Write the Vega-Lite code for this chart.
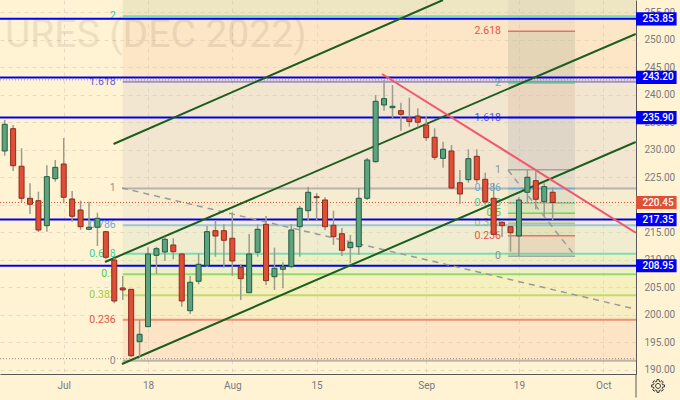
{
  "$schema": "https://vega.github.io/schema/vega-lite/v6.json",
  "width": 636,
  "height": 374,
  "autosize": {"type": "none"},
  "padding": {"left": 0, "top": 0, "right": 44, "bottom": 26},
  "background": "#FFF3D3",
  "view": {"fill": "#FFF3D3", "stroke": null},
  "config": {"font": "Roboto"},
  "resolve": {"axis": {"x": "independent", "y": "independent"}},
  "datasets": {
    "candles": [
      {"i":0,"open":229.82,"high":235.45,"low":228.96,"close":234.67},
      {"i":1,"open":233.87,"high":234.55,"low":226.18,"close":227.15},
      {"i":2,"open":227.04,"high":230.31,"low":220.55,"close":221.22},
      {"i":3,"open":221.22,"high":223.95,"low":218.36,"close":220.13},
      {"i":4,"open":220.78,"high":222.42,"low":215.09,"close":215.45},
      {"i":5,"open":216.24,"high":227.22,"low":215.15,"close":225.15},
      {"i":6,"open":224.78,"high":228.18,"low":224.24,"close":226.85},
      {"i":7,"open":227.45,"high":232.18,"low":220.49,"close":221.4},
      {"i":8,"open":221.09,"high":222.55,"low":216.96,"close":217.95},
      {"i":9,"open":219.09,"high":220.78,"low":215.45,"close":216.05},
      {"i":10,"open":215.58,"high":220.6,"low":215.4,"close":215.95},
      {"i":11,"open":215.95,"high":218.6,"low":212.55,"close":217.58},
      {"i":12,"open":215.15,"high":215.27,"low":210.13,"close":210.49},
      {"i":13,"open":210,"high":210.36,"low":202.13,"close":202.55},
      {"i":14,"open":204.91,"high":207.09,"low":202.73,"close":204.55},
      {"i":15,"open":204.67,"high":204.73,"low":192.36,"close":192.6},
      {"i":16,"open":195.15,"high":199.09,"low":192.42,"close":196.49},
      {"i":17,"open":197.87,"high":212.31,"low":197.8,"close":211.09},
      {"i":18,"open":210.85,"high":212.42,"low":207.45,"close":212.05},
      {"i":19,"open":211.45,"high":214.24,"low":209.82,"close":213.76},
      {"i":20,"open":212.73,"high":213.95,"low":210.13,"close":211.51},
      {"i":21,"open":211.09,"high":211.15,"low":201.51,"close":202.55},
      {"i":22,"open":200.78,"high":207.09,"low":200.18,"close":205.95},
      {"i":23,"open":206.13,"high":211.22,"low":205.58,"close":209.22},
      {"i":24,"open":209.04,"high":216.18,"low":208.73,"close":215.15},
      {"i":25,"open":215.33,"high":217.27,"low":210.6,"close":214.36},
      {"i":26,"open":215.33,"high":216.49,"low":208.6,"close":213.58},
      {"i":27,"open":213.95,"high":218.67,"low":207.15,"close":209.82},
      {"i":28,"open":208.67,"high":209.27,"low":202.73,"close":206.6},
      {"i":29,"open":204.05,"high":214.73,"low":204,"close":211.09},
      {"i":30,"open":211.4,"high":216.49,"low":210.6,"close":215.58},
      {"i":31,"open":216.49,"high":218,"low":205.45,"close":206.24},
      {"i":32,"open":206.96,"high":212.24,"low":204.55,"close":208.49},
      {"i":33,"open":208.31,"high":209.58,"low":204.85,"close":208.78},
      {"i":34,"open":208.78,"high":216.55,"low":208.6,"close":215.45},
      {"i":35,"open":216.05,"high":219.82,"low":210.6,"close":219.4},
      {"i":36,"open":218.96,"high":223.33,"low":217.15,"close":222.31},
      {"i":37,"open":221.51,"high":222.13,"low":217.27,"close":221.33},
      {"i":38,"open":220.91,"high":221.4,"low":215.45,"close":216.05},
      {"i":39,"open":216.31,"high":218.96,"low":212.73,"close":214.24},
      {"i":40,"open":214.78,"high":215.82,"low":210.73,"close":211.76},
      {"i":41,"open":212.24,"high":214.55,"low":209.4,"close":213.15},
      {"i":42,"open":212.42,"high":223.09,"low":210.91,"close":221.22},
      {"i":43,"open":221.22,"high":228.55,"low":220.91,"close":228.18},
      {"i":44,"open":227.87,"high":240,"low":227.7,"close":238.85},
      {"i":45,"open":238.18,"high":242.73,"low":237.15,"close":239.33},
      {"i":46,"open":237.69,"high":241.82,"low":235.76,"close":237.95},
      {"i":47,"open":237.15,"high":238.6,"low":233.51,"close":236.49},
      {"i":48,"open":235.87,"high":239.51,"low":234.24,"close":235.15},
      {"i":49,"open":236.18,"high":237.58,"low":234.13,"close":235.04},
      {"i":50,"open":234.55,"high":236.18,"low":231.64,"close":232.24},
      {"i":51,"open":232.31,"high":233.95,"low":228.18,"close":228.67},
      {"i":52,"open":228.49,"high":231.51,"low":226.78,"close":230.13},
      {"i":53,"open":229.82,"high":230.91,"low":223,"close":223.09},
      {"i":54,"open":224.05,"high":226.36,"low":220.18,"close":222},
      {"i":55,"open":224.6,"high":230.13,"low":224.05,"close":228.42},
      {"i":56,"open":228.85,"high":230.13,"low":224.05,"close":224.6},
      {"i":57,"open":224.67,"high":225.87,"low":220.18,"close":220.6},
      {"i":58,"open":221.22,"high":223.95,"low":214.55,"close":214.67},
      {"i":59,"open":216.85,"high":217.27,"low":214.18,"close":216.24},
      {"i":60,"open":216.05,"high":216.18,"low":211.51,"close":214.96},
      {"i":61,"open":214.36,"high":221.45,"low":210.73,"close":220.91},
      {"i":62,"open":222.31,"high":226.36,"low":220.31,"close":225.04},
      {"i":63,"open":224.42,"high":226.36,"low":219.22,"close":221.04},
      {"i":64,"open":220.6,"high":223.95,"low":218,"close":223.33},
      {"i":65,"open":222.31,"high":223.22,"low":217.27,"close":220.45}
    ],
    "bands": [
      {"band":"0-0.236","i":14,"i2":74.886,"p":191.7,"p2":199.15},
      {"band":"0.236-0.382","i":14,"i2":74.886,"p":199.15,"p2":203.6},
      {"band":"0.382-0.5","i":14,"i2":74.886,"p":203.6,"p2":207.4},
      {"band":"0.5-0.618","i":14,"i2":74.886,"p":207.4,"p2":211.15},
      {"band":"0.618-0.786","i":14,"i2":74.886,"p":211.15,"p2":216.3},
      {"band":"0.786-1","i":14,"i2":74.886,"p":216.3,"p2":223},
      {"band":"1-1.618","i":14,"i2":74.886,"p":223,"p2":242.4},
      {"band":"1.618-2","i":14,"i2":74.886,"p":242.4,"p2":254.3},
      {"band":"2-2.618","i":14,"i2":74.886,"p":254.3,"p2":257.27},
      {"band":"0-0.236","i":59.7,"i2":67.65,"p":210.7,"p2":214.4},
      {"band":"0.236-0.382","i":59.7,"i2":67.65,"p":214.4,"p2":216.7},
      {"band":"0.382-0.5","i":59.7,"i2":67.65,"p":216.7,"p2":218.5},
      {"band":"0.5-0.618","i":59.7,"i2":67.65,"p":218.5,"p2":220.35},
      {"band":"0.618-0.786","i":59.7,"i2":67.65,"p":220.35,"p2":223},
      {"band":"0.786-1","i":59.7,"i2":67.65,"p":223,"p2":226.4},
      {"band":"1-1.618","i":59.7,"i2":67.65,"p":226.4,"p2":235.9},
      {"band":"1.618-2","i":59.7,"i2":67.65,"p":235.9,"p2":242.2},
      {"band":"2-2.618","i":59.7,"i2":67.65,"p":242.2,"p2":251.6}
    ],
    "fibs": [
      {"fib":"a","level":"0","i":14,"i2":74.886,"p":191.7},
      {"fib":"a","level":"0.236","i":14,"i2":74.886,"p":199.15},
      {"fib":"a","level":"0.382","i":14,"i2":74.886,"p":203.6},
      {"fib":"a","level":"0.5","i":14,"i2":74.886,"p":207.4},
      {"fib":"a","level":"0.618","i":14,"i2":74.886,"p":211.15},
      {"fib":"a","level":"0.786","i":14,"i2":74.886,"p":216.3},
      {"fib":"a","level":"1","i":14,"i2":74.886,"p":223},
      {"fib":"a","level":"1.618","i":14,"i2":74.886,"p":242.4},
      {"fib":"a","level":"2","i":14,"i2":74.886,"p":254.3},
      {"fib":"b","level":"0","i":59.7,"i2":67.65,"p":210.7},
      {"fib":"b","level":"0.236","i":59.7,"i2":67.65,"p":214.4},
      {"fib":"b","level":"0.382","i":59.7,"i2":67.65,"p":216.7},
      {"fib":"b","level":"0.5","i":59.7,"i2":67.65,"p":218.5},
      {"fib":"b","level":"0.618","i":59.7,"i2":67.65,"p":220.35},
      {"fib":"b","level":"0.786","i":59.7,"i2":67.65,"p":223},
      {"fib":"b","level":"1","i":59.7,"i2":67.65,"p":226.4},
      {"fib":"b","level":"1.618","i":59.7,"i2":67.65,"p":235.9},
      {"fib":"b","level":"2","i":59.7,"i2":67.65,"p":242.2},
      {"fib":"b","level":"2.618","i":59.7,"i2":67.65,"p":251.6}
    ],
    "channels": [
      {"i":12.91,"p":231.09,"i2":51.99,"p2":257.27},
      {"i":11.9,"p":209.64,"i2":74.85,"p2":251.09},
      {"i":13.91,"p":191.09,"i2":74.85,"p2":231.45}
    ],
    "trend": [
      {"i":44.76,"p":243.82,"i2":74.85,"p2":214.96}
    ],
    "projections": [
      {"i":13.91,"p":223.09,"i2":74.77,"p2":201.09},
      {"i":59.7,"p":226.36,"i2":67.65,"p2":210.73}
    ],
    "lines": [
      {"kind":"level","p":253.85,"i":-0.558,"i2":74.886},
      {"kind":"level","p":243.2,"i":-0.558,"i2":74.886},
      {"kind":"level","p":235.9,"i":-0.558,"i2":74.886},
      {"kind":"level","p":217.35,"i":-0.558,"i2":74.886},
      {"kind":"level","p":208.95,"i":-0.558,"i2":74.886},
      {"kind":"last","p":220.45,"i":-0.558,"i2":74.886},
      {"kind":"dotted","p":242.75,"i":-0.558,"i2":74.886},
      {"kind":"dotted","p":192.05,"i":-0.558,"i2":74.886}
    ],
    "tags": [
      {"kind":"level","label":"253.85","price":253.85,"p":255.05,"p2":252.65,"i":74.886,"i2":79.7,"mid":77.5},
      {"kind":"level","label":"243.20","price":243.2,"p":244.4,"p2":242,"i":74.886,"i2":79.7,"mid":77.5},
      {"kind":"level","label":"235.90","price":235.9,"p":237.1,"p2":234.7,"i":74.886,"i2":79.7,"mid":77.5},
      {"kind":"last","label":"220.45","price":220.45,"p":221.65,"p2":219.25,"i":74.886,"i2":79.7,"mid":77.5},
      {"kind":"level","label":"217.35","price":217.35,"p":218.55,"p2":216.15,"i":74.886,"i2":79.7,"mid":77.5},
      {"kind":"level","label":"208.95","price":208.95,"p":210.15,"p2":207.75,"i":74.886,"i2":79.7,"mid":77.5}
    ]
  },
  "encoding": {
    "x": {
      "field": "i",
      "type": "quantitative",
      "title": null,
      "scale": {"domain": [-0.558, 74.886], "nice": false, "zero": false, "padding": 0},
      "axis": null
    },
    "y": {
      "field": "p",
      "type": "quantitative",
      "title": null,
      "scale": {"domain": [189.27, 257.27], "nice": false, "zero": false, "padding": 0},
      "axis": null
    }
  },
  "layer": [
    {
      "data": {"name": "bands"},
      "mark": {"type": "rect", "opacity": 0.3},
      "encoding": {
        "x": {
          "field": "i",
          "type": "quantitative",
          "axis": {
            "orient": "bottom",
            "title": null,
            "values": [7, 17, 27, 37, 50, 61, 71],
            "labelExpr": "datum.value==7?'Jul':datum.value==17?'18':datum.value==27?'Aug':datum.value==37?'15':datum.value==50?'Sep':datum.value==61?'19':'Oct'",
            "labelFontSize": 10,
            "labelColor": "#777b80",
            "labelPadding": 6,
            "labelFlush": false,
            "tickSize": 0,
            "domainColor": "#5a5a5a",
            "domainWidth": 1,
            "grid": true,
            "gridColor": "#8a8a8a",
            "gridOpacity": 0.22,
            "gridDash": [4, 4]
          }
        },
        "y": {
          "field": "p",
          "type": "quantitative",
          "axis": {
            "orient": "right",
            "title": null,
            "values": [190, 195, 200, 205, 210, 215, 220, 225, 230, 235, 240, 245, 250, 255],
            "format": ".2f",
            "labelFontSize": 10,
            "labelColor": "#777b80",
            "labelPadding": 8,
            "labelFlush": false,
            "tickSize": 0,
            "domainColor": "#5a5a5a",
            "domainWidth": 1,
            "grid": true,
            "gridColor": "#8a8a8a",
            "gridOpacity": 0.22,
            "gridDash": [4, 4]
          }
        },
        "x2": {"field": "i2"},
        "y2": {"field": "p2"},
        "fill": {
          "field": "band",
          "type": "nominal",
          "legend": null,
          "scale": {
            "domain": ["0-0.236", "0.236-0.382", "0.382-0.5", "0.5-0.618", "0.618-0.786", "0.786-1", "1-1.618", "1.618-2", "2-2.618"],
            "range": ["#F8C4A4", "#EBE29E", "#E1E98D", "#C6E9A1", "#CDDFC6", "#E1DFC9", "#D4CBC9", "#F8CBA8", "#C6C89E"]
          }
        }
      }
    },
    {
      "data": {"values": [{"i": 59.7, "i2": 67.65, "p": 210.7, "p2": 257.27}]},
      "mark": {"type": "rect", "color": "#787b86", "opacity": 0.07},
      "encoding": {
        "x2": {"field": "i2"},
        "y2": {"field": "p2"}
      }
    },
    {
      "data": {"values": [{"name": "URES (DEC 2022)", "i": 0.03, "p": 250.9}]},
      "mark": {"type": "text", "align": "left", "baseline": "middle", "fontSize": 39, "color": "#3a2a10", "opacity": 0.09},
      "encoding": {
        "text": {"field": "name"}
      }
    },
    {
      "data": {"name": "fibs"},
      "mark": {"type": "text", "align": "right", "baseline": "middle", "dx": -7, "fontSize": 10.5},
      "encoding": {
        "text": {"field": "level"},
        "color": {
          "field": "level",
          "type": "nominal",
          "legend": null,
          "scale": {
            "domain": ["0", "0.236", "0.382", "0.5", "0.618", "0.786", "1", "1.618", "2", "2.618"],
            "range": ["#8f9094", "#e25545", "#9ccb3c", "#4ccf3c", "#35cf9c", "#5aaee6", "#8f9094", "#5a5ad8", "#35cf9c", "#e25545"]
          }
        }
      }
    },
    {
      "data": {"name": "fibs"},
      "transform": [{"filter": "datum.fib=='a'"}],
      "mark": {"type": "rule", "strokeWidth": 2, "opacity": 0.6},
      "encoding": {
        "x2": {"field": "i2"},
        "color": {"field": "level", "type": "nominal", "legend": null}
      }
    },
    {
      "data": {"name": "fibs"},
      "transform": [{"filter": "datum.fib=='b'"}],
      "mark": {"type": "rule", "strokeWidth": 1.5, "opacity": 0.75},
      "encoding": {
        "x2": {"field": "i2"},
        "color": {"field": "level", "type": "nominal", "legend": null}
      }
    },
    {
      "data": {"name": "lines"},
      "transform": [{"filter": "datum.kind=='dotted'"}],
      "mark": {"type": "rule", "color": "#8a8a8a", "strokeWidth": 1, "strokeDash": [1, 2]},
      "encoding": {"x2": {"field": "i2"}}
    },
    {
      "data": {"name": "lines"},
      "transform": [{"filter": "datum.kind=='last'"}],
      "mark": {"type": "rule", "color": "#e0503a", "strokeWidth": 1, "strokeDash": [1, 2]},
      "encoding": {"x2": {"field": "i2"}}
    },
    {
      "data": {"name": "lines"},
      "transform": [{"filter": "datum.kind=='level'"}],
      "mark": {"type": "rule", "color": "#0000F0", "strokeWidth": 2},
      "encoding": {"x2": {"field": "i2"}}
    },
    {
      "data": {"name": "projections"},
      "mark": {"type": "rule", "color": "#9a9a9a", "strokeWidth": 1.5, "strokeDash": [6, 5], "clip": true},
      "encoding": {"x2": {"field": "i2"}, "y2": {"field": "p2"}}
    },
    {
      "data": {"name": "channels"},
      "mark": {"type": "rule", "color": "#1c5e20", "strokeWidth": 2, "clip": true},
      "encoding": {"x2": {"field": "i2"}, "y2": {"field": "p2"}}
    },
    {
      "data": {"name": "trend"},
      "mark": {"type": "rule", "color": "#f4566e", "strokeWidth": 2, "clip": true},
      "encoding": {"x2": {"field": "i2"}, "y2": {"field": "p2"}}
    },
    {
      "data": {"name": "candles"},
      "mark": {"type": "rule", "color": "#9b9b8e", "strokeWidth": 1.5},
      "encoding": {
        "y": {"field": "low", "type": "quantitative", "axis": null},
        "y2": {"field": "high"}
      }
    },
    {
      "data": {"name": "candles"},
      "mark": {"type": "bar", "width": 5, "strokeWidth": 1},
      "encoding": {
        "y": {"field": "open", "type": "quantitative", "axis": null},
        "y2": {"field": "close"},
        "fill": {"condition": {"test": "datum.close>datum.open", "value": "#5fa27e"}, "value": "#df4f38"},
        "stroke": {"condition": {"test": "datum.close>datum.open", "value": "#1f5c42"}, "value": "#8c2c1c"}
      }
    },
    {
      "data": {"name": "tags"},
      "mark": {"type": "rect"},
      "encoding": {
        "x2": {"field": "i2"},
        "y2": {"field": "p2"},
        "fill": {"condition": {"test": "datum.kind=='last'", "value": "#dd5236"}, "value": "#0000F0"}
      }
    },
    {
      "data": {"name": "tags"},
      "mark": {"type": "text", "color": "#ffffff", "fontSize": 10, "fontWeight": 500, "align": "center", "baseline": "middle"},
      "encoding": {
        "x": {"field": "mid", "type": "quantitative", "axis": null},
        "y": {"field": "price", "type": "quantitative", "axis": null},
        "text": {"field": "label"}
      }
    },
    {
      "data": {"values": [{"i": 74.886, "p": 189.27, "p2": 185}]},
      "mark": {"type": "rule", "color": "#5a5a5a", "strokeWidth": 1},
      "encoding": {
        "y2": {"field": "p2"}
      }
    },
    {
      "data": {"values": [{"i": 77.5, "p": 187.1}]},
      "mark": {
        "type": "point",
        "filled": false,
        "color": "#333333",
        "strokeWidth": 1,
        "opacity": 1,
        "size": 170,
        "shape": "M.695,-.186L.988,-.156L.988,.156L.695,.186L.624,.36L.809,.588L.588,.809L.36,.624L.186,.695L.156,.988L-.156,.988L-.186,.695L-.36,.624L-.588,.809L-.809,.588L-.624,.36L-.695,.186L-.988,.156L-.988,-.156L-.695,-.186L-.624,-.36L-.809,-.588L-.588,-.809L-.36,-.624L-.186,-.695L-.156,-.988L.156,-.988L.186,-.695L.36,-.624L.588,-.809L.809,-.588L.624,-.36ZM.38,0A.38,.38 0 1,0 -.38,0A.38,.38 0 1,0 .38,0Z"
      },
      "encoding": {}
    }
  ]
}
